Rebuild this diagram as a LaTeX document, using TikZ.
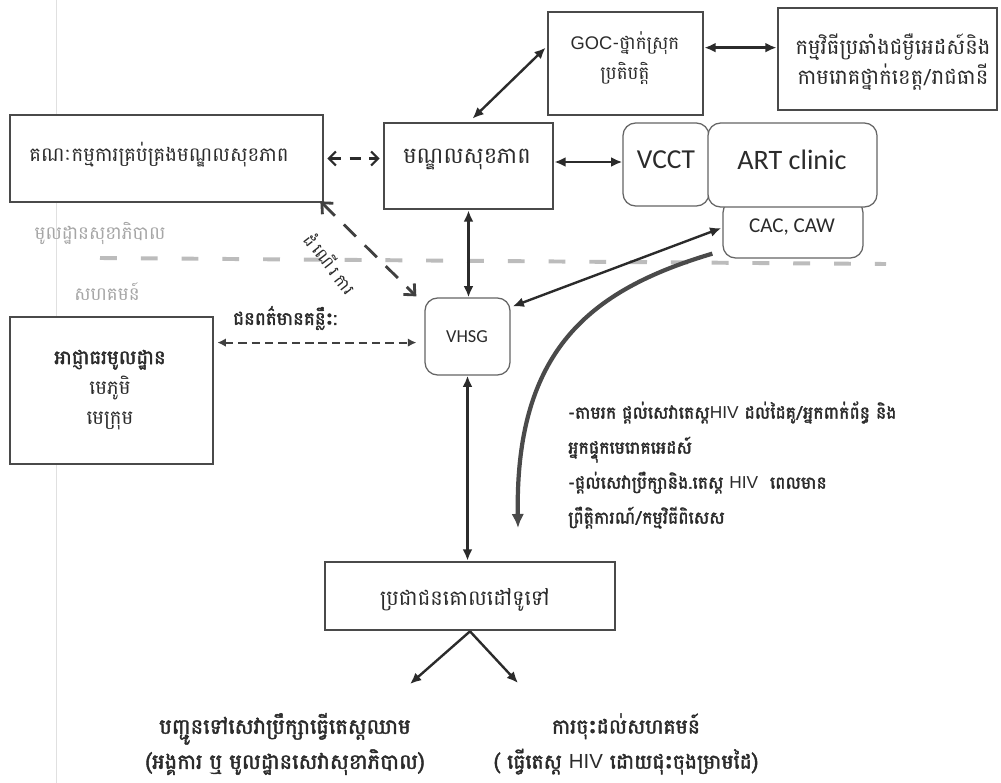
\documentclass[tikz,border=0pt]{standalone}
\usepackage{fontspec}
\usetikzlibrary{arrows.meta,calc}
\newfontfamily\khfont[Script=Khmer]{Battambang}
\newfontfamily\khbfont[Script=Khmer,FakeBold=2]{Battambang}
\newfontfamily\calfont{Carlito}
\newfontfamily\arfont{Liberation Sans}
\definecolor{ink}{HTML}{2B2B2B}
\definecolor{edge}{HTML}{4A4A4A}
\definecolor{soft}{HTML}{A6A6A6}
\tikzset{
  sqbox/.style={draw=edge,line width=1.9pt,fill=white,inner sep=0pt},
  rbox/.style={draw=edge!85,line width=0.9pt,rounded corners=9pt,fill=white,inner sep=0pt},
  txt/.style={text=ink,inner sep=0pt,align=center},
  link/.style={draw=ink,line width=1.7pt,{Latex[length=8pt,width=7pt]}-{Latex[length=8pt,width=7pt]}},
  oneway/.style={draw=ink,line width=1.7pt,-{Latex[length=8pt,width=7pt]}},
  dlinka/.style={draw=ink,line width=1.5pt,dash pattern=on 8pt off 6pt,{Straight Barb[length=5pt,width=10pt]}-{Straight Barb[length=5pt,width=10pt]}},
  dlinkb/.style={draw=ink!90,line width=2pt,dash pattern=on 12pt off 9pt,{Straight Barb[length=6pt,width=11pt]}-{Straight Barb[length=6pt,width=11pt]}},
  dlinkc/.style={draw=ink!90,line width=1.4pt,dash pattern=on 6pt off 3.5pt,{Latex[length=6pt,width=6pt]}-{Latex[length=6pt,width=6pt]}},
  curvy/.style={draw=edge,line width=3pt,-{Latex[length=10pt,width=9pt]}},
  sep/.style={draw=soft!75,line width=2.8pt,dash pattern=on 12pt off 17pt},
}
\begin{document}
\begin{tikzpicture}[x=0.025cm,y=-0.025cm]
\useasboundingbox (0,0) rectangle (1001,783);
\fill[white] (0,0) rectangle (1001,783);
% faint margin rule of the sheet
\coordinate (ruleTop) at (56,0);
\coordinate (ruleBot) at (56,783);
\draw[black!12,line width=0.6pt] (ruleTop) -- (ruleBot);

% boxes
\node[sqbox,minimum width=3.875cm,minimum height=2.575cm] (goc) at (625.5,63.5) {};
\node[sqbox,minimum width=5.475cm,minimum height=2.55cm] (prog) at (887.5,59) {};
\node[sqbox,minimum width=7.825cm,minimum height=2.175cm] (comm) at (166.5,158.5) {};
\node[sqbox,minimum width=4.225cm,minimum height=2.15cm] (hc) at (468.5,166) {};
\node[rbox,minimum width=3.5cm,minimum height=1.45cm] (cac) at (793,229) {};
\node[rbox,minimum width=2.15cm,minimum height=2.075cm] (vcct) at (666,164.5) {};
\node[rbox,minimum width=4.225cm,minimum height=2.1cm] (art) at (792.5,165) {};
\node[rbox,minimum width=2.125cm,minimum height=1.925cm] (vhsg) at (467.5,336.5) {};
\node[sqbox,minimum width=5.075cm,minimum height=3.675cm] (auth) at (111.5,390.5) {};
\node[sqbox,minimum width=7.25cm,minimum height=1.7cm] (pop) at (470,596) {};

% box texts
\node[txt,font=\khfont\fontsize{13}{21}\selectfont] (goct) at (625,58) {{\arfont GOC}-ថ្នាក់ស្រុក\\ប្រតិបត្តិ};
\node[txt,font=\khfont\fontsize{15}{21}\selectfont] (progt) at (893,62) {កម្មវិធីប្រឆាំងជម្ងឺអេដស៍និង\\កាមរោគថ្នាក់ខេត្ត/រាជធានី};
\node[txt,font=\khfont\fontsize{14}{20}\selectfont] (commt) at (159,155) {គណៈកម្មការគ្រប់គ្រងមណ្ឌលសុខភាព};
\node[txt,font=\khfont\fontsize{16}{20}\selectfont] (hct) at (467,160) {មណ្ឌលសុខភាព};
\node[txt,font=\calfont\fontsize{19.5}{22}\selectfont] (vcctt) at (666,160) {VCCT};
\node[txt,font=\calfont\fontsize{20}{22}\selectfont] (artt) at (792,160) {ART clinic};
\node[txt,font=\calfont\fontsize{15}{18}\selectfont] (cact) at (792,227) {CAC, CAW};
\node[txt,font=\calfont\fontsize{13}{16}\selectfont] (vhsgt) at (467,337) {VHSG};
\node[txt,font=\khfont\fontsize{14}{21.5}\selectfont] (autht) at (110,390) {{\khbfont អាជ្ញាធរមូលដ្ឋាន}\\មេភូមិ\\មេក្រុម};
\node[txt,font=\khfont\fontsize{15}{20}\selectfont] (popt) at (465,600) {ប្រជាជនគោលដៅទូទៅ};

% zone labels and separator
\node[txt,text=soft,font=\khfont\fontsize{13}{16}\selectfont] (zoneA) at (100,233) {មូលដ្ឋានសុខាភិបាល};
\node[txt,text=soft,font=\khfont\fontsize{13}{16}\selectfont] (zoneB) at (107,292) {សហគមន៍};
\coordinate (sepL) at (100,258);
\coordinate (sepR) at (886,264);
\draw[sep] (sepL) -- (sepR);

% connector labels
\node[txt,font=\khfont\fontsize{12}{14}\selectfont,rotate=-52] (flowt) at (331,263) {ដំ\hspace{2.5pt}ណើ\hspace{2.5pt}រ\hspace{2.5pt}ការ};
\node[txt,font=\khbfont\fontsize{13}{16}\selectfont] (keyt) at (285,318) {ជនពត៌មានគន្លឹះ:};
\node[txt,anchor=west,align=left,font=\khbfont\fontsize{12.3}{24.9}\selectfont] (notes) at (568,465)
  {-តាមរក ផ្តល់សេវាតេស្ត{\arfont HIV} ដល់ដៃគូ/អ្នកពាក់ព័ន្ធ និង\\
   អ្នកផ្ទុកមេរោគអេដស៍\\
   -ផ្តល់សេវាប្រឹក្សានិង.តេស្ត {\arfont HIV}~ ពេលមាន\\
   ព្រឹត្តិការណ៍/កម្មវិធីពិសេស};
\node[txt,font=\khbfont\fontsize{15}{25}\selectfont] (reft) at (285,744)
  {បញ្ជូនទៅសេវាប្រឹក្សាធ្វើតេស្តឈាម\\(អង្គការ ឬ មូលដ្ឋានសេវាសុខាភិបាល)};
\node[txt,font=\khbfont\fontsize{14.5}{25}\selectfont] (outt) at (626,744)
  {ការចុះដល់សហគមន៍\\( ធ្វើតេស្ត {\arfont HIV} ដោយជុះចុងម្រាមដៃ)};

% connectors
\coordinate (gocR) at ($(goc.north east)!0.35!(goc.south east)$);
\draw[link] (gocR) -- (gocR -| prog.west);
\coordinate (gocL) at ($(goc.north west)!0.35!(goc.south west)$);
\draw[link] ($(hc.north)+(4,-3)$) -- ($(gocL)+(-1,0)$);
\draw[dlinka] ($(comm.east)+(3,0)$) -- ($(comm.east -| hc.west)+(-3,0)$);
\draw[link] ($(hc.east)+(0,-4)$) -- ($(hc.east -| vcct.west)+(0,-4)$);
\draw[link] (hc.south) -- (hc.south |- vhsg.north);
\draw[dlinkb] ($(comm.south east)+(-4,-2)$) -- ($(vhsg.north west)+(-8,-1)$);
\draw[link] ($(vhsg.north east)+(2,9)$) -- ($(cac.west)+(-1,-1)$);
\coordinate (bend) at (518,528);
\draw[curvy] ($(cac.south west)+(-10,-5)$) .. controls (590,290) and (515,350) .. (bend);
\draw[link] (vhsg.south) -- (vhsg.south |- pop.north);
\coordinate (authR) at ($(auth.north east)!0.18!(auth.south east)$);
\draw[dlinkc] ($(authR)+(3,0)$) -- ($(authR -| vhsg.west)+(-8,0)$);
\coordinate (toRef) at (410,684);
\coordinate (toOut) at (518,683);
\draw[oneway] (pop.south) -- (toRef);
\draw[oneway] (pop.south) -- (toOut);
\end{tikzpicture}
\end{document}
